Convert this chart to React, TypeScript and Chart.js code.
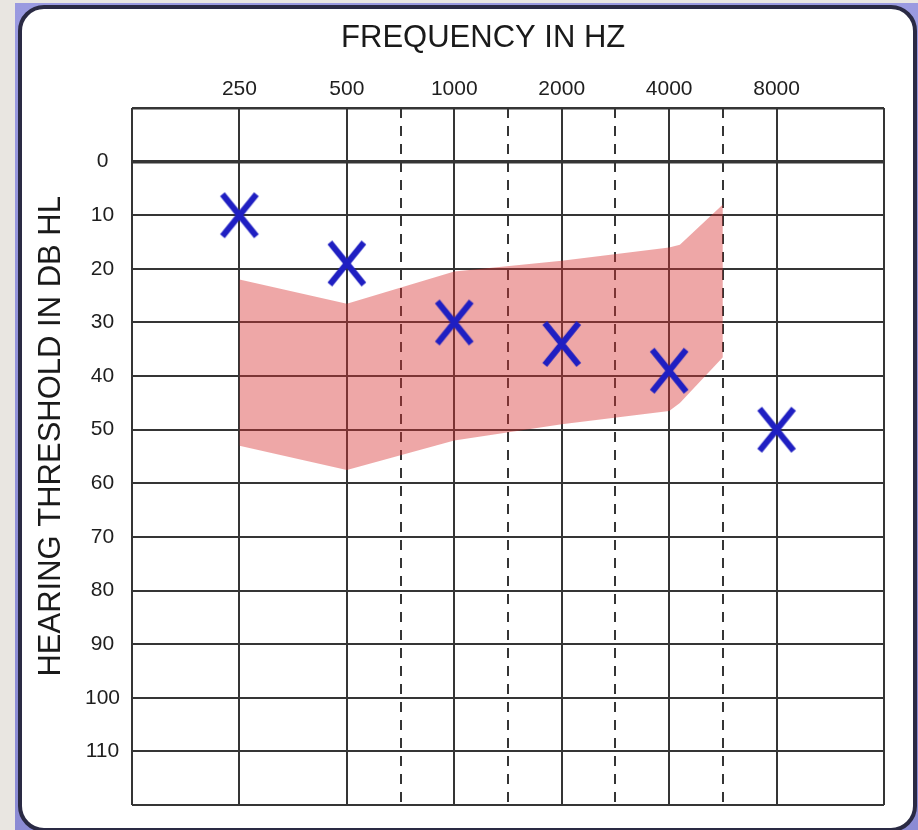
import React, { useEffect, useRef } from 'react';
import { Chart, registerables } from 'chart.js';

Chart.register(...registerables);

// ---- data ----
const FREQ_LABELS = ['250', '500', '1000', '2000', '4000', '8000'];
const OCTAVE_INDEX = [0, 1, 2, 3, 4, 5];
const THRESHOLDS = [10, 19, 30, 34, 39, 50];

const BAND_X = [0, 1, 2, 3, 4, 4.1, 4.5];
const BAND_UPPER = [22, 26.5, 20.5, 18.5, 16, 15.5, 8];
const BAND_LOWER = [53, 57.5, 52, 49, 46.5, 45, 36.5];

const X_SOLID_GRID = [-1, 0, 1, 2, 3, 4, 5, 6];
const X_DASHED_GRID = [1.5, 2.5, 3.5, 4.5];
const Y_LABELLED = [0, 10, 20, 30, 40, 50, 60, 70, 80, 90, 100, 110];

const X_TITLE = 'FREQUENCY IN HZ';
const Y_TITLE = 'HEARING THRESHOLD IN DB HL';

const FONT = '"Liberation Sans", Arial, Helvetica, sans-serif';
const MARK_COLOR = '#1f1fc2';
const GRID_COLOR = '#353535';

const axisTitles = {
  id: 'axisTitles',
  afterDraw(chart: any) {
    const { ctx, chartArea } = chart;
    const { left, right, top, bottom } = chartArea;
    ctx.save();
    ctx.fillStyle = '#1a1a1a';
    ctx.font = `31px ${FONT}`;
    ctx.textAlign = 'center';
    ctx.textBaseline = 'middle';
    ctx.fillText(X_TITLE, left + (right - left) * 0.467, top - 70);
    ctx.translate(left - 81, top + (bottom - top) * 0.471);
    ctx.rotate(-Math.PI / 2);
    ctx.fillText(Y_TITLE, 0, 0);
    ctx.restore();
  },
};

export default function App() {
  const ref = useRef<HTMLCanvasElement>(null);

  useEffect(() => {
    const marker = document.createElement('canvas');
    marker.width = 42;
    marker.height = 48;
    const m = marker.getContext('2d')!;
    m.strokeStyle = MARK_COLOR;
    m.lineWidth = 6;
    m.beginPath();
    m.moveTo(4, 3);
    m.lineTo(38, 45);
    m.moveTo(38, 3);
    m.lineTo(4, 45);
    m.stroke();

    const chart = new Chart(ref.current!, {
      type: 'line',
      data: {
        datasets: [
          {
            label: 'upper',
            order: 1,
            data: BAND_X.map((x, i) => ({ x, y: BAND_UPPER[i] })),
            borderWidth: 0,
            borderColor: 'rgba(0,0,0,0)',
            pointRadius: 0,
            fill: '+1',
            backgroundColor: 'rgba(215, 50, 50, 0.43)',
            tension: 0,
          },
          {
            label: 'lower',
            order: 2,
            data: BAND_X.map((x, i) => ({ x, y: BAND_LOWER[i] })),
            borderWidth: 0,
            borderColor: 'rgba(0,0,0,0)',
            pointRadius: 0,
            fill: false,
            tension: 0,
          },
          {
            label: 'thresholds',
            order: 0,
            data: OCTAVE_INDEX.map((x, i) => ({ x, y: THRESHOLDS[i] })),
            showLine: false,
            pointStyle: marker,
            pointRadius: 20,
            pointHoverRadius: 20,
            borderColor: MARK_COLOR,
            backgroundColor: MARK_COLOR,
          },
        ],
      },
      options: {
        animation: false,
        responsive: false,
        events: [],
        layout: { padding: { left: 0, top: 0, right: 34, bottom: 25 } },
        plugins: {
          legend: { display: false },
          tooltip: { enabled: false },
        },
        scales: {
          x: {
            type: 'linear',
            position: 'top',
            min: -1,
            max: 6,
            afterBuildTicks: (scale: any) => {
              scale.ticks = [...X_SOLID_GRID, ...X_DASHED_GRID]
                .sort((a, b) => a - b)
                .map((v) => ({ value: v }));
            },
            afterFit: (scale: any) => {
              scale.height = 108;
            },
            ticks: {
              autoSkip: false,
              maxRotation: 0,
              minRotation: 0,
              padding: 6,
              color: '#1e1e1e',
              font: { family: FONT, size: 21 },
              callback: (v: any) => {
                const i = OCTAVE_INDEX.indexOf(Number(v));
                return i >= 0 ? FREQ_LABELS[i] : '';
              },
            },
            grid: {
              drawTicks: false,
              color: GRID_COLOR,
              lineWidth: 2,
            },
            border: {
              display: false,
              dash: (ctx: any) =>
                ctx.tick && X_DASHED_GRID.includes(ctx.tick.value) ? [10, 8] : [],
            },
          },
          y: {
            type: 'linear',
            min: -10,
            max: 120,
            reverse: true,
            afterFit: (scale: any) => {
              scale.width = 132;
            },
            ticks: {
              stepSize: 10,
              autoSkip: false,
              crossAlign: 'center',
              padding: 12,
              color: '#1e1e1e',
              font: { family: FONT, size: 21 },
              callback: (v: any) => (Y_LABELLED.includes(Number(v)) ? String(v) : ''),
            },
            grid: {
              drawTicks: false,
              color: GRID_COLOR,
              lineWidth: (ctx: any) =>
                ctx.tick && ctx.tick.value === 0 ? 3.5 : ctx.tick && ctx.tick.value === -10 ? 2.5 : 2,
            },
            border: { display: false },
          },
        },
      },
      plugins: [axisTitles],
    } as any);

    return () => chart.destroy();
  }, []);

  return (
    <div
      style={{
        position: 'fixed',
        left: 0,
        top: 0,
        width: 918,
        height: 830,
        background: '#e9e6e1',
        overflow: 'hidden',
      }}
    >
      <div
        style={{
          position: 'absolute',
          left: 15,
          top: 3,
          width: 903,
          height: 827,
          background: 'linear-gradient(180deg, #9a9ae0 0%, #8b8bd4 100%)',
        }}
      />
      <div
        style={{
          position: 'absolute',
          left: 18,
          top: 5,
          width: 899,
          height: 827,
          boxSizing: 'border-box',
          border: '4px solid #2a2a44',
          borderRadius: 26,
          background: '#ffffff',
        }}
      />
      <canvas
        ref={ref}
        width={918}
        height={830}
        style={{ position: 'absolute', left: 0, top: 0 }}
      />
    </div>
  );
}
